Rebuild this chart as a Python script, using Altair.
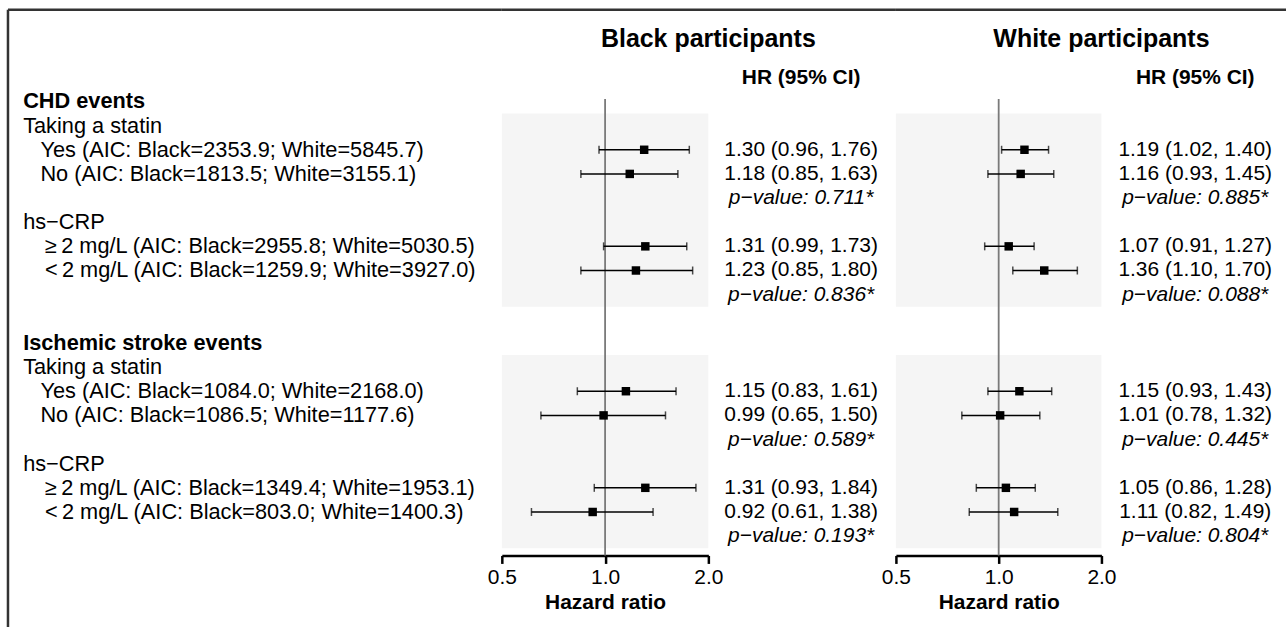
import altair as alt
import pandas as pd

# ---------------- data ----------------
outcomes = ["CHD events", "Ischemic stroke events"]
groups = ["Taking a statin", "hs−CRP"]
levels = [["Yes", "No"], ["≥\u20092 mg/L", "<\u20092 mg/L"]]

aic_black = [2353.9, 1813.5, 2955.8, 1259.9, 1084.0, 1086.5, 1349.4, 803.0]
aic_white = [5845.7, 3155.1, 5030.5, 3927.0, 2168.0, 1177.6, 1953.1, 1400.3]

black_hr = [1.30, 1.18, 1.31, 1.23, 1.15, 0.99, 1.31, 0.92]
black_lo = [0.96, 0.85, 0.99, 0.85, 0.83, 0.65, 0.93, 0.61]
black_hi = [1.76, 1.63, 1.73, 1.80, 1.61, 1.50, 1.84, 1.38]
black_p = [0.711, 0.836, 0.589, 0.193]

white_hr = [1.19, 1.16, 1.07, 1.36, 1.15, 1.01, 1.05, 1.11]
white_lo = [1.02, 0.93, 0.91, 1.10, 0.93, 0.78, 0.86, 0.82]
white_hi = [1.40, 1.45, 1.27, 1.70, 1.43, 1.32, 1.28, 1.49]
white_p = [0.885, 0.088, 0.445, 0.804]

x_ticks = [0.5, 1.0, 2.0]

# ---------------- row layout ----------------
label_rows = []
est_rows = []
p_rows = []
k = 0
for o, outcome in enumerate(outcomes):
    base = o * 10
    label_rows.append({"row": base, "text": outcome, "kind": "outcome"})
    for g, group in enumerate(groups):
        label_rows.append({"row": base + g * 4 + 1, "text": group, "kind": "group"})
        for l, lev in enumerate(levels[g]):
            label_rows.append({
                "row": base + g * 4 + 2 + l,
                "text": f"{lev} (AIC: Black={aic_black[k]:.1f}; White={aic_white[k]:.1f})",
                "kind": "level" if g == 0 else "crp",
            })
            est_rows.append(base + g * 4 + 2 + l)
            k += 1
        p_rows.append(base + g * 4 + 4)

Y_DOM = [-3.8, 18.8]
bands = pd.DataFrame({
    "top": [o * 10 + 0.5 for o in range(len(outcomes))],
    "bot": [o * 10 + 8.5 for o in range(len(outcomes))],
    "x0": [x_ticks[0]] * len(outcomes),
    "x1": [x_ticks[-1]] * len(outcomes),
})
labels_df = pd.DataFrame(label_rows)

FONT = "Liberation Sans"
LABEL_SIZE = 21.8
H = 547
BORDER = "#333333"
one = pd.DataFrame({"a": [0]})


def Y(field):
    return alt.Y(field, type="quantitative",
                 scale=alt.Scale(domain=Y_DOM, reverse=True, nice=False, zero=False),
                 axis=None)


def forest_panel(title, hr, lo, hi, pv, width, xrange):
    est = pd.DataFrame({
        "row": est_rows, "hr": hr, "lo": lo, "hi": hi,
        "label": [f"{h:.2f} ({a:.2f}, {b:.2f})" for h, a, b in zip(hr, lo, hi)],
    })
    pdf = pd.DataFrame({"row": p_rows, "label": [f"p−value: {p:.3f}*" for p in pv]})
    ref = pd.DataFrame({"x": [1.0], "y0": [-0.1], "y1": [Y_DOM[1]]})
    xs = alt.Scale(type="log", domain=[x_ticks[0], x_ticks[-1]], range=[0, xrange], nice=False)
    axis = alt.Axis(values=x_ticks, format=".1f", title="Hazard ratio", grid=False,
                    domainColor="black", domainWidth=2.5, tickColor="black", tickWidth=2.5,
                    tickSize=8, labelFontSize=21, labelColor="black", labelFont=FONT,
                    labelPadding=3, labelFlush=False, labelOverlap=False,
                    titleFontSize=21, titleFontWeight="bold", titleFont=FONT,
                    titleColor="black", titlePadding=4)

    def X(field):
        return alt.X(field, type="quantitative", scale=xs, axis=axis)

    band = alt.Chart(bands).mark_rect(color="#f5f5f5").encode(
        x=X("x0"), x2="x1", y=Y("top"), y2="bot")
    refline = alt.Chart(ref).mark_rule(color="#7a7a7a", strokeWidth=1.8).encode(
        x=X("x"), y=Y("y0"), y2="y1")
    whisk = alt.Chart(est).mark_rule(color="black", strokeWidth=1.5).encode(
        x=X("lo"), x2="hi", y=Y("row"))
    cap_lo = alt.Chart(est).mark_tick(orient="vertical", size=8, thickness=1.5, color="black").encode(
        x=X("lo"), y=Y("row"))
    cap_hi = alt.Chart(est).mark_tick(orient="vertical", size=8, thickness=1.5, color="black").encode(
        x=X("hi"), y=Y("row"))
    sq = alt.Chart(est).mark_square(size=72, color="black", opacity=1, filled=True).encode(
        x=X("hr"), y=Y("row"))
    vals = alt.Chart(est).mark_text(align="center", baseline="middle", fontSize=21,
                                    font=FONT, color="black").encode(
        x=alt.value(300), y=Y("row"), text="label:N")
    pvals = alt.Chart(pdf).mark_text(align="center", baseline="middle", fontSize=21,
                                     font=FONT, fontStyle="italic", color="black").encode(
        x=alt.value(300), y=Y("row"), text="label:N")
    hdr = alt.Chart(one).mark_text(text="HR (95% CI)", align="center", baseline="middle",
                                   fontSize=21, fontWeight="bold", font=FONT, color="black").encode(
        x=alt.value(300), y=alt.value(68))
    ttl = alt.Chart(one).mark_text(text=title, align="center", baseline="middle",
                                   fontSize=25, fontWeight="bold", font=FONT, color="black").encode(
        x=alt.value(xrange), y=alt.value(29))
    top = alt.Chart(one).mark_rule(color=BORDER, strokeWidth=2.5).encode(
        x=alt.value(0), x2=alt.value(width), y=alt.value(0))
    return alt.layer(band, refline, whisk, cap_lo, cap_hi, sq, vals, pvals, hdr, ttl, top).properties(
        width=width, height=H)


def label_layer(kind, xpos, weight):
    return alt.Chart(labels_df).transform_filter(alt.datum.kind == kind).mark_text(
        align="left", baseline="middle", fontSize=LABEL_SIZE, font=FONT, fontWeight=weight,
        color="black").encode(x=alt.value(xpos), y=Y("row"), text="text:N")


left_border = alt.Chart(one).mark_rule(color=BORDER, strokeWidth=2.5).encode(
    x=alt.value(0), y=alt.value(0), y2=alt.value(619))
top_border = alt.Chart(one).mark_rule(color=BORDER, strokeWidth=2.5).encode(
    x=alt.value(0), x2=alt.value(495), y=alt.value(0))

labels_panel = alt.layer(
    label_layer("outcome", 15.2, "bold"),
    label_layer("group", 15.2, "normal"),
    label_layer("level", 32.5, "normal"),
    label_layer("crp", 37, "normal"),
    left_border, top_border,
).properties(width=495, height=H)

black_panel = forest_panel("Black participants", black_hr, black_lo, black_hi, black_p, 395, 207)
white_panel = forest_panel("White participants", white_hr, white_lo, white_hi, white_p, 391, 206)

chart = alt.hconcat(labels_panel, black_panel, white_panel, spacing=0, bounds="flush").properties(
    padding={"left": 6, "top": 7, "right": 0, "bottom": 0},
    autosize=alt.AutoSizeParams(type="pad"),
    background="white",
).configure_view(strokeWidth=0)

chart.save("out.html", embed_options={"renderer": "svg", "actions": False})
